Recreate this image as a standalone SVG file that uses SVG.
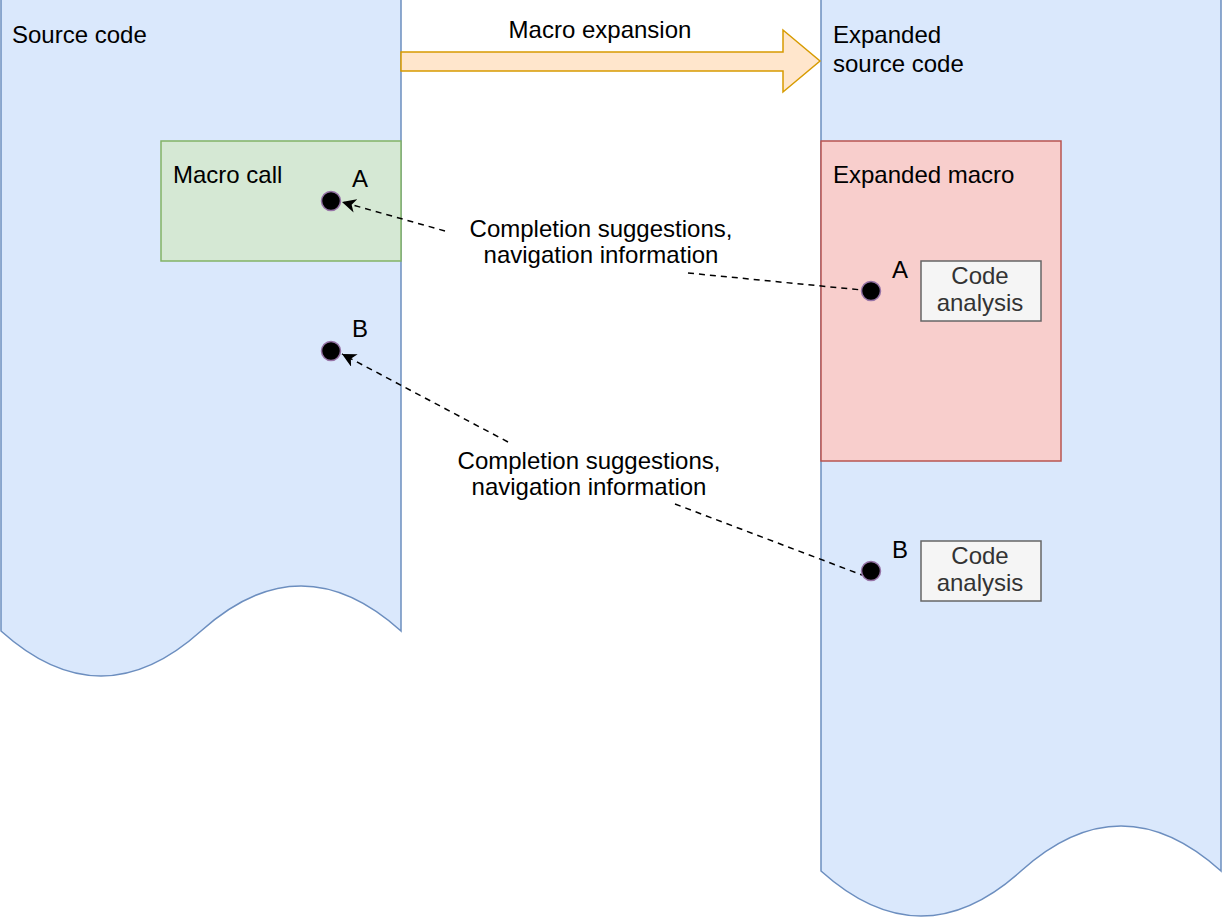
<svg xmlns="http://www.w3.org/2000/svg" width="1222" height="922" viewBox="0 0 1222 922">
<style>
.t{font-family:"Liberation Sans",Arial,Helvetica,sans-serif;font-size:24px;fill:#000}
.c{text-anchor:middle}
.g{fill:#333333}
.doc{fill:#dae8fc;stroke:#6c8ebf;stroke-width:1.5}
.dot{fill:#000;stroke:#9673a6;stroke-width:1.5}
.ca{fill:#f5f5f5;stroke:#666666;stroke-width:1.5}
.dash{fill:none;stroke:#000;stroke-width:1.5;stroke-dasharray:6 5}
</style>
<defs>
<marker id="arr" markerUnits="userSpaceOnUse" markerWidth="16" markerHeight="14" refX="14" refY="7" orient="auto">
<path d="M14,7 L0,0 L4,7 L0,14 Z" fill="#000"/>
</marker>
</defs>
<rect width="1222" height="922" fill="#ffffff"/>
<g id="source-code">
<path class="doc" d="M1,-1 L401,-1 L401,631 Q301,541 201,631 Q101,721 1,631 Z"/>
<text class="t" x="12" y="43">Source code</text>
</g>
<g id="expanded-source">
<path class="doc" d="M821,-1 L1221,-1 L1221,871 Q1121,781 1021,871 Q921,961 821,871 Z"/>
<text class="t" x="833" y="43">Expanded</text>
<text class="t" x="833" y="72">source code</text>
</g>
<g id="macro-expansion">
<path d="M401,52 L783,52 L783,30 L820,61 L783,92 L783,71 L401,71 Z" fill="#ffe6cc" stroke="#d79b00" stroke-width="1.5"/>
<text class="t c" x="600" y="38">Macro expansion</text>
</g>
<g id="macro-call">
<rect x="161" y="141" width="240" height="120" fill="#d5e8d4" stroke="#82b366" stroke-width="1.5"/>
<text class="t" x="173" y="183">Macro call</text>
</g>
<g id="expanded-macro">
<rect x="821" y="141" width="240" height="320" fill="#f8cecc" stroke="#b85450" stroke-width="1.5"/>
<text class="t" x="833" y="183">Expanded macro</text>
</g>
<g id="code-analysis-a">
<rect class="ca" x="921" y="261" width="120" height="60"/>
<text class="t c g" x="980" y="284">Code</text>
<text class="t c g" x="980" y="311">analysis</text>
</g>
<g id="code-analysis-b">
<rect class="ca" x="921" y="541" width="120" height="60"/>
<text class="t c g" x="980" y="564">Code</text>
<text class="t c g" x="980" y="591">analysis</text>
</g>
<g id="label-a">
<text class="t c" x="601" y="237">Completion suggestions,</text>
<text class="t c" x="601" y="263">navigation information</text>
</g>
<g id="label-b">
<text class="t c" x="589" y="469">Completion suggestions,</text>
<text class="t c" x="589" y="495">navigation information</text>
</g>
<g id="connectors">
<line class="dash" x1="445" y1="231" x2="342" y2="202" marker-end="url(#arr)"/>
<line class="dash" x1="688" y1="273" x2="862" y2="290"/>
<line class="dash" x1="508" y1="442" x2="342" y2="354" marker-end="url(#arr)"/>
<line class="dash" x1="675" y1="504" x2="862" y2="575"/>
</g>
<g id="point-a-src">
<circle class="dot" cx="331" cy="201" r="9.5"/>
<text class="t c" x="360" y="187">A</text>
</g>
<g id="point-b-src">
<circle class="dot" cx="331" cy="351" r="9.5"/>
<text class="t c" x="360" y="337">B</text>
</g>
<g id="point-a-exp">
<circle class="dot" cx="871" cy="291" r="9.5"/>
<text class="t c" x="900" y="278">A</text>
</g>
<g id="point-b-exp">
<circle class="dot" cx="871" cy="571" r="9.5"/>
<text class="t c" x="900" y="558">B</text>
</g>
</svg>
